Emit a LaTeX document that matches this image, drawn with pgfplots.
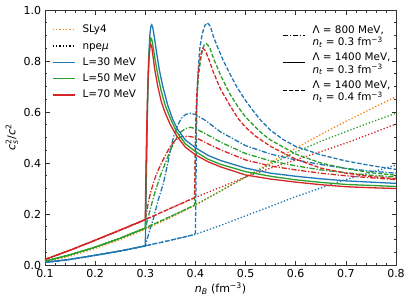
\documentclass[border=0pt]{standalone}
\usepackage{amsmath}
\usepackage{pgfplots}
\pgfplotsset{compat=1.18}
\usepackage{fontspec}
\setmainfont{DejaVu Sans}
\definecolor{tabblue}{HTML}{1F77B4}
\definecolor{taborange}{HTML}{FF7F0E}
\definecolor{tabgreen}{HTML}{2CA02C}
\definecolor{tabred}{HTML}{D62728}
\tikzset{
  dotl/.style={line width=1.3pt, dash pattern=on 1.3pt off 2.0pt},
  dashl/.style={line width=1.3pt, dash pattern=on 4.2pt off 1.9pt},
  dashdotl/.style={line width=1.3pt, dash pattern=on 5.2pt off 1.7pt on 1.3pt off 1.7pt},
  solidl/.style={line width=1.3pt},
}
% npe (dotted) series
\pgfplotstableread{
x y
0.10 0.010
0.15 0.022
0.20 0.038
0.25 0.055
0.30 0.075
0.35 0.097
0.40 0.120
0.45 0.155
0.50 0.193
0.55 0.230
0.60 0.268
0.65 0.302
0.70 0.335
0.75 0.363
0.80 0.392
}\npeblue
\pgfplotstableread{
x y
0.10 0.015
0.15 0.040
0.20 0.070
0.25 0.105
0.30 0.145
0.35 0.190
0.40 0.236
0.45 0.290
0.50 0.345
0.55 0.395
0.60 0.443
0.65 0.485
0.70 0.523
0.75 0.560
0.80 0.595
}\npegreen
\pgfplotstableread{
x y
0.10 0.022
0.15 0.058
0.20 0.097
0.25 0.137
0.30 0.178
0.35 0.222
0.40 0.265
0.45 0.305
0.50 0.345
0.55 0.380
0.60 0.412
0.65 0.445
0.70 0.478
0.75 0.515
0.80 0.553
}\npered
\pgfplotstableread{
x y
0.10 0.010
0.15 0.035
0.20 0.065
0.25 0.100
0.30 0.140
0.35 0.185
0.40 0.235
0.45 0.290
0.50 0.345
0.55 0.402
0.60 0.458
0.65 0.512
0.70 0.563
0.75 0.612
0.80 0.660
}\sly
% Lambda=1400, nt=0.3 (solid)
\pgfplotstableread{
x y
0.10 0.010
0.15 0.022
0.20 0.038
0.25 0.055
0.30 0.075
0.301 0.20
0.303 0.45
0.305 0.68
0.307 0.82
0.309 0.90
0.311 0.935
0.313 0.942
0.315 0.930
0.318 0.895
0.322 0.840
0.328 0.765
0.335 0.700
0.345 0.625
0.355 0.570
0.365 0.530
0.38 0.490
0.40 0.460
0.425 0.430
0.45 0.410
0.50 0.380
0.55 0.360
0.60 0.348
0.65 0.338
0.70 0.330
0.75 0.325
0.80 0.320
}\solblue
\pgfplotstableread{
x y
0.10 0.015
0.15 0.040
0.20 0.070
0.25 0.105
0.30 0.145
0.301 0.28
0.303 0.50
0.305 0.68
0.307 0.80
0.309 0.865
0.311 0.890
0.313 0.885
0.316 0.850
0.320 0.800
0.325 0.745
0.332 0.680
0.34 0.625
0.35 0.575
0.363 0.520
0.38 0.475
0.40 0.445
0.425 0.415
0.45 0.395
0.50 0.366
0.55 0.348
0.60 0.334
0.65 0.324
0.70 0.316
0.75 0.312
0.80 0.308
}\solgreen
\pgfplotstableread{
x y
0.10 0.022
0.15 0.058
0.20 0.097
0.25 0.137
0.30 0.178
0.301 0.33
0.303 0.55
0.305 0.70
0.307 0.80
0.309 0.85
0.311 0.865
0.313 0.855
0.316 0.810
0.319 0.765
0.325 0.700
0.332 0.640
0.34 0.595
0.35 0.550
0.363 0.505
0.38 0.462
0.40 0.432
0.425 0.405
0.45 0.385
0.50 0.353
0.55 0.337
0.60 0.325
0.65 0.315
0.70 0.307
0.75 0.303
0.80 0.300
}\solred
% Lambda=800, nt=0.3 (dash-dot)
\pgfplotstableread{
x y
0.10 0.010
0.15 0.022
0.20 0.038
0.25 0.055
0.30 0.075
0.305 0.11
0.31 0.145
0.316 0.18
0.325 0.25
0.336 0.32
0.345 0.40
0.352 0.47
0.359 0.52
0.365 0.55
0.372 0.575
0.38 0.590
0.39 0.595
0.40 0.590
0.42 0.567
0.45 0.522
0.50 0.468
0.55 0.435
0.60 0.412
0.65 0.394
0.70 0.379
0.75 0.368
0.80 0.360
}\ddblue
\pgfplotstableread{
x y
0.10 0.015
0.15 0.040
0.20 0.070
0.25 0.105
0.30 0.145
0.305 0.18
0.31 0.22
0.32 0.29
0.33 0.35
0.34 0.40
0.35 0.45
0.36 0.49
0.37 0.52
0.38 0.535
0.39 0.540
0.40 0.535
0.42 0.515
0.45 0.482
0.50 0.437
0.55 0.408
0.60 0.389
0.65 0.373
0.70 0.362
0.75 0.352
0.80 0.345
}\ddgreen
\pgfplotstableread{
x y
0.10 0.022
0.15 0.058
0.20 0.097
0.25 0.137
0.30 0.178
0.303 0.21
0.306 0.245
0.31 0.28
0.316 0.32
0.322 0.355
0.329 0.386
0.34 0.43
0.35 0.465
0.36 0.49
0.37 0.502
0.385 0.505
0.40 0.500
0.42 0.480
0.45 0.452
0.50 0.412
0.55 0.388
0.60 0.373
0.65 0.360
0.70 0.350
0.75 0.342
0.80 0.335
}\ddred
% Lambda=1400, nt=0.4 (dashed)
\pgfplotstableread{
x y
0.10 0.010
0.15 0.022
0.20 0.038
0.25 0.055
0.30 0.075
0.35 0.097
0.395 0.118
0.400 0.125
0.401 0.30
0.402 0.50
0.403 0.65
0.405 0.75
0.409 0.855
0.414 0.910
0.419 0.940
0.424 0.950
0.430 0.935
0.436 0.895
0.445 0.850
0.456 0.800
0.47 0.745
0.482 0.700
0.50 0.645
0.515 0.605
0.53 0.568
0.55 0.528
0.575 0.492
0.60 0.465
0.65 0.432
0.70 0.408
0.75 0.390
0.80 0.375
}\dsblue
\pgfplotstableread{
x y
0.10 0.015
0.15 0.040
0.20 0.070
0.25 0.105
0.30 0.145
0.35 0.190
0.398 0.234
0.399 0.30
0.400 0.45
0.401 0.55
0.403 0.65
0.406 0.74
0.41 0.80
0.414 0.845
0.418 0.865
0.422 0.868
0.428 0.855
0.436 0.810
0.45 0.745
0.469 0.670
0.485 0.620
0.50 0.580
0.52 0.540
0.535 0.512
0.55 0.490
0.60 0.435
0.65 0.400
0.70 0.378
0.75 0.362
0.80 0.352
}\dsgreen
\pgfplotstableread{
x y
0.10 0.022
0.15 0.058
0.20 0.097
0.25 0.137
0.30 0.178
0.35 0.222
0.398 0.264
0.399 0.35
0.400 0.48
0.401 0.58
0.403 0.68
0.406 0.76
0.41 0.82
0.415 0.850
0.42 0.840
0.428 0.800
0.436 0.755
0.45 0.690
0.469 0.625
0.485 0.575
0.50 0.540
0.52 0.505
0.55 0.465
0.60 0.415
0.65 0.380
0.70 0.360
0.75 0.347
0.80 0.338
}\dsred
\begin{document}
\fontsize{11}{13.2}\selectfont
\begin{tikzpicture}
\path[use as bounding box] (-45pt,-38pt) rectangle (366pt,265pt);
\begin{axis}[
  at={(0,0)}, anchor=south west,
  scale only axis, width=351pt, height=255pt,
  xmin=0.1, xmax=0.8, ymin=0, ymax=1,
  xtick={0.1,0.2,0.3,0.4,0.5,0.6,0.7,0.8},
  ytick={0,0.2,0.4,0.6,0.8,1.0},
  minor x tick num=4, minor y tick num=3,
  tick align=inside,
  major tick length=4.5pt, minor tick length=2.5pt,
  every tick/.style={black!80, line width=0.7pt},
  axis line style={black!80, line width=0.8pt},
  /pgf/number format/assume math mode=true,
  xticklabel style={/pgf/number format/.cd, fixed, fixed zerofill, precision=1},
  yticklabel style={/pgf/number format/.cd, fixed, fixed zerofill, precision=1},
  scaled ticks=false,
  xlabel={\textit{n}$_{\textit{B}}$ (fm$^{\text{−3}}$)},
  ylabel={$\textit{c}_{\textit{s}}^{\text{2}}\text{/}\textit{c}^{\text{2}}$},
  xlabel style={yshift=2pt},
  ylabel style={yshift=-2pt},
  legend image code/.code={\draw[#1] (0pt,0pt) -- (22pt,0pt);},
  legend cell align=left,
  legend style={draw=none, fill=none, at={(0,1)}, anchor=north west,
    xshift=7pt, yshift=-13pt, inner sep=0pt, row sep=3.3pt, column sep=6pt,
    font=\fontsize{10.4}{12.5}\selectfont,
    nodes={inner sep=1pt, text height=8.5pt, text depth=2.5pt}},
]
\addplot[taborange, dotl, forget plot] table {\sly};
\addplot[tabblue, dotl, forget plot] table {\npeblue};
\addplot[tabgreen, dotl, forget plot] table {\npegreen};
\addplot[tabred, dotl, forget plot] table {\npered};
\addplot[tabblue, dashdotl, forget plot] table {\ddblue};
\addplot[tabgreen, dashdotl, forget plot] table {\ddgreen};
\addplot[tabred, dashdotl, forget plot] table {\ddred};
\addplot[tabblue, dashl, forget plot] table {\dsblue};
\addplot[tabgreen, dashl, forget plot] table {\dsgreen};
\addplot[tabred, dashl, forget plot] table {\dsred};
\addplot[tabblue, solidl, forget plot] table {\solblue};
\addplot[tabgreen, solidl, forget plot] table {\solgreen};
\addplot[tabred, solidl, forget plot] table {\solred};
\addlegendimage{taborange, dotl}
\addlegendentry{SLy4}
\addlegendimage{black, dotl}
\addlegendentry{npe\textit{μ}}
\addlegendimage{tabblue, solidl}
\addlegendentry{L=30 MeV}
\addlegendimage{tabgreen, solidl}
\addlegendentry{L=50 MeV}
\addlegendimage{tabred, solidl}
\addlegendentry{L=70 MeV}
\end{axis}
\begin{axis}[
  at={(0,0)}, anchor=south west,
  scale only axis, width=351pt, height=255pt,
  xmin=0.1, xmax=0.8, ymin=0, ymax=1,
  hide axis,
  legend image code/.code={\draw[#1] (0pt,-2pt) -- (22pt,-2pt);},
  legend cell align=left,
  legend style={draw=none, fill=none, at={(0,1)}, anchor=north west,
    xshift=237pt, yshift=-14pt, inner sep=0pt, row sep=9.5pt, column sep=6pt,
    font=\fontsize{10.4}{12}\selectfont,
    nodes={inner sep=1pt}},
]
\addlegendimage{black, dashdotl}
\addlegendentry{\renewcommand\arraystretch{0.95}\begin{tabular}[c]{@{}l@{}}Λ = 800 MeV,\\ \textit{n}$_{\textit{t}}$ = 0.3 fm$^{\text{−3}}$\end{tabular}}
\addlegendimage{black, solidl}
\addlegendentry{\renewcommand\arraystretch{0.95}\begin{tabular}[c]{@{}l@{}}Λ = 1400 MeV,\\ \textit{n}$_{\textit{t}}$ = 0.3 fm$^{\text{−3}}$\end{tabular}}
\addlegendimage{black, dashl}
\addlegendentry{\renewcommand\arraystretch{0.95}\begin{tabular}[c]{@{}l@{}}Λ = 1400 MeV,\\ \textit{n}$_{\textit{t}}$ = 0.4 fm$^{\text{−3}}$\end{tabular}}
\end{axis}
\end{tikzpicture}
\end{document}
